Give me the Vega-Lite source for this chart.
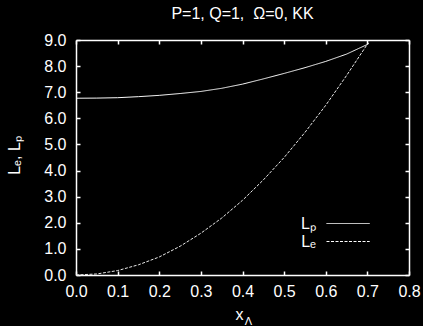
{
  "$schema": "https://vega.github.io/schema/vega-lite/v6.json",
  "width": 333,
  "height": 235,
  "autosize": {"type": "none"},
  "padding": {"left": 76, "top": 40, "right": 14, "bottom": 51},
  "background": "black",
  "title": {"text": "P=1, Q=1, \u00a0Ω=0, KK", "color": "white", "font": "Liberation Sans", "fontSize": 16, "fontWeight": "normal", "anchor": "middle", "offset": -3, "baseline": "alphabetic"},
  "config": {
    "view": {"stroke": null},
    "axis": {"domainColor": "white", "domainWidth": 1.5, "tickColor": "white", "tickWidth": 1.5, "tickSize": -4, "labelColor": "white", "labelFont": "Liberation Sans", "labelFontSize": 16, "titleColor": "white", "titleFont": "Liberation Sans", "titleFontSize": 16, "titleFontWeight": "normal", "grid": false, "labelFlush": false, "labelOverlap": false},
    "legend": {"orient": "none", "legendX": 263.6, "legendY": 175, "labelAlign": "right", "labelOffset": -40.6, "symbolType": "M-2.7,0H2.7", "symbolSize": 256, "symbolStrokeWidth": 1, "symbolStrokeColor": "white", "symbolFillColor": "transparent", "labelColor": "white", "labelFont": "Liberation Sans", "labelFontSize": 16, "rowPadding": 1, "padding": 0}
  },
  "datasets": {
    "lp": [
      {"x": 0, "L": 6.77, "series": "Lₚ"}, {"x": 0.05, "L": 6.775, "series": "Lₚ"}, {"x": 0.1, "L": 6.79, "series": "Lₚ"}, {"x": 0.15, "L": 6.83, "series": "Lₚ"}, {"x": 0.2, "L": 6.88, "series": "Lₚ"}, {"x": 0.25, "L": 6.95, "series": "Lₚ"}, {"x": 0.3, "L": 7.03, "series": "Lₚ"}, {"x": 0.35, "L": 7.15, "series": "Lₚ"}, {"x": 0.4, "L": 7.31, "series": "Lₚ"}, {"x": 0.45, "L": 7.51, "series": "Lₚ"}, {"x": 0.5, "L": 7.72, "series": "Lₚ"}, {"x": 0.55, "L": 7.94, "series": "Lₚ"}, {"x": 0.6, "L": 8.18, "series": "Lₚ"}, {"x": 0.65, "L": 8.46, "series": "Lₚ"}, {"x": 0.7, "L": 8.83, "series": "Lₚ"}, {"x": 0.703, "L": 8.88, "series": "Lₚ"}
    ],
    "le": [
      {"x": 0, "L": 0, "series": "Lₑ"}, {"x": 0.05, "L": 0.04, "series": "Lₑ"}, {"x": 0.1, "L": 0.17, "series": "Lₑ"}, {"x": 0.15, "L": 0.39, "series": "Lₑ"}, {"x": 0.2, "L": 0.69, "series": "Lₑ"}, {"x": 0.25, "L": 1.1, "series": "Lₑ"}, {"x": 0.3, "L": 1.6, "series": "Lₑ"}, {"x": 0.35, "L": 2.18, "series": "Lₑ"}, {"x": 0.4, "L": 2.86, "series": "Lₑ"}, {"x": 0.45, "L": 3.64, "series": "Lₑ"}, {"x": 0.5, "L": 4.5, "series": "Lₑ"}, {"x": 0.55, "L": 5.46, "series": "Lₑ"}, {"x": 0.6, "L": 6.5, "series": "Lₑ"}, {"x": 0.65, "L": 7.64, "series": "Lₑ"}, {"x": 0.7, "L": 8.84, "series": "Lₑ"}, {"x": 0.703, "L": 8.88, "series": "Lₑ"}
    ]
  },
  "layer": [
    {
      "data": {"name": "lp"},
      "mark": {"type": "line", "stroke": "white", "strokeWidth": 1},
      "encoding": {
        "x": {"field": "x", "type": "quantitative", "scale": {"domain": [0, 0.8], "nice": false, "zero": false}, "axis": {"orient": "bottom", "values": [0, 0.1, 0.2, 0.3, 0.4, 0.5, 0.6, 0.7, 0.8], "format": ".1f", "labelPadding": 12, "title": "x", "titleX": 163, "titleY": 44, "titleBaseline": "alphabetic", "titleAlign": "center"}},
        "y": {"field": "L", "type": "quantitative", "scale": {"domain": [0, 9], "nice": false, "zero": false}, "axis": {"orient": "left", "values": [0, 1, 2, 3, 4, 5, 6, 7, 8, 9], "format": ".1f", "labelPadding": 14, "title": "Lₑ, Lₚ", "titleX": -57, "titleY": 115, "titleAngle": -90, "titleBaseline": "alphabetic", "titleAlign": "center"}},
        "strokeDash": {"field": "series", "type": "nominal", "scale": {"domain": ["Lₚ", "Lₑ"], "range": [[1, 0], [3, 1.5]]}, "legend": {"title": null}}
      }
    },
    {
      "data": {"name": "le"},
      "mark": {"type": "line", "stroke": "#e8e8e8", "strokeWidth": 1},
      "encoding": {
        "x": {"field": "x", "type": "quantitative", "scale": {"domain": [0, 0.8], "nice": false, "zero": false}, "axis": {"orient": "top", "values": [0, 0.1, 0.2, 0.3, 0.4, 0.5, 0.6, 0.7, 0.8], "labels": false, "title": "Λ", "titleFontSize": 11, "titleX": 172, "titleY": 284, "titleBaseline": "alphabetic", "titleAlign": "center"}},
        "y": {"field": "L", "type": "quantitative", "scale": {"domain": [0, 9], "nice": false, "zero": false}, "axis": {"orient": "right", "values": [0, 1, 2, 3, 4, 5, 6, 7, 8, 9], "labels": false, "title": null}},
        "strokeDash": {"field": "series", "type": "nominal", "scale": {"domain": ["Lₚ", "Lₑ"], "range": [[1, 0], [3, 1.5]]}, "legend": {"title": null}}
      }
    }
  ],
  "resolve": {"axis": {"x": "independent", "y": "independent"}}
}
